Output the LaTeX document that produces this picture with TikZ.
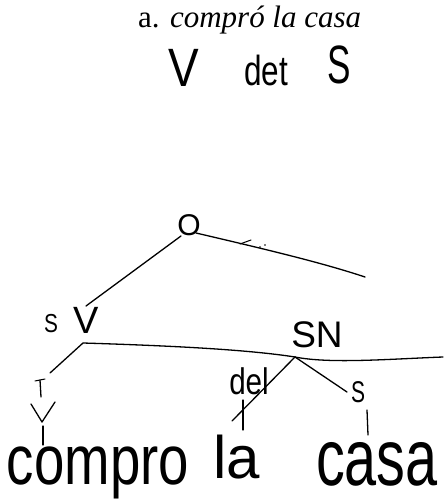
\documentclass[tikz,border=0pt]{standalone}
\usepackage{fontspec}
\setmainfont{Liberation Serif}
\newfontfamily\hw{Liberation Sans}
\tikzset{
  hwl/.style={inner sep=0pt, anchor=base, font=\hw},
  ln/.style={line width=1.3pt, line cap=round, line join=round},
  thin/.style={line width=1pt, line cap=round}
}
\newcommand{\fs}[1]{\fontsize{#1}{#1}\selectfont}
\begin{document}
\begin{tikzpicture}[x=1pt,y=-1pt]
\useasboundingbox (0,0) rectangle (444,502);
% title
\node[inner sep=0pt, anchor=base west] (title) at (138,28) {\fs{31}a. \textit{compró la casa}};
% handwritten top labels
\node[hwl] (tV) at (184,87) {\scalebox{0.85}[1]{\fs{54}V}};
\node[hwl] (tdet) at (266,86) {\scalebox{0.75}[1]{\fs{42}det}};
\node[hwl] (tS) at (339,84) {\scalebox{0.65}[1]{\fs{54}S}};
% tree labels
\node[hwl] (O) at (189,236) {\fs{30}O};
\node[hwl] (svS) at (51,332) {\scalebox{0.8}[1]{\fs{26}S}};
\node[hwl] (svV) at (86,333) {\fs{38}V};
\node[hwl] (SN) at (317,347) {\fs{37}SN};
\node[hwl] (del) at (249,394) {\scalebox{0.8}[1]{\fs{37}del}};
\node[hwl] (nS) at (358,402) {\scalebox{0.7}[1]{\fs{30}S}};
% words
\node[hwl] (compro) at (98,484) {\scalebox{0.78}[1]{\fs{70}compro}};
\node[hwl] (la) at (237,478) {\fs{60}la}; 
\node[hwl] (casa) at (377,485) {\scalebox{0.72}[1]{\fs{80}casa}};
% coordinates
\coordinate (Oleft) at (181,236);
\coordinate (Oright) at (196,233);
\coordinate (Oend) at (365,277);
\coordinate (SVtop) at (86,306);
\coordinate (SVbot) at (83,343);
\coordinate (SNbot) at (295,357);
\coordinate (SNend) at (443,357);
\coordinate (Vleft) at (50,373);
\coordinate (dEnd) at (232,421);
\coordinate (sEnd) at (347,392);
% edges
\draw[ln] (Oleft) -- (SVtop);
\draw[ln] (Oright) .. controls (260,248) and (320,262) .. (Oend);
\draw[thin] (240,244) -- (251,240);
\fill (260,247) circle (0.8) (265,245) circle (0.8);
\draw[ln] (SVbot) .. controls (180,346) and (250,350) .. (SNbot);
\draw[ln] (SNbot) .. controls (330,364) and (390,359) .. (SNend);
\draw[ln] (SVbot) -- (Vleft);
\draw[ln] (SNbot) -- (dEnd);
\draw[ln] (SNbot) -- (sEnd);
% small marks under SV
\draw[thin] (35,381) -- (45,379);
\draw[ln] (40,380) -- (41,397);
\draw[ln] (31,404) -- (42,422) -- (55,402);
\draw[ln] (43,426) -- (43,445);
% ticks
\draw[ln] (243,400) -- (243,430);
\draw[ln] (367,410) -- (368,435);
\end{tikzpicture}
\end{document}
